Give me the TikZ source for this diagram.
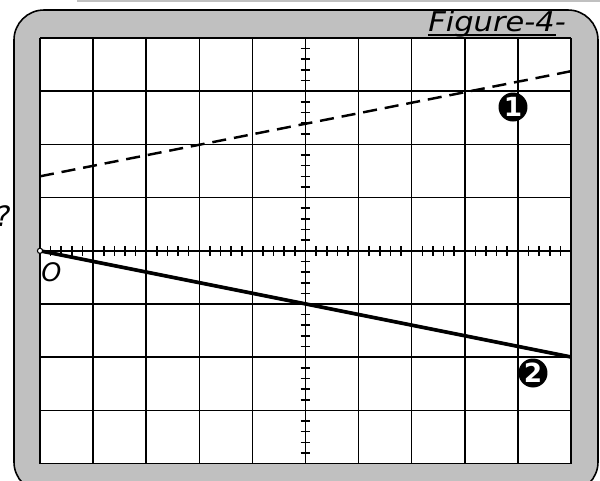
\documentclass[tikz,border=0pt]{standalone}
\usepackage{fontspec}
\newfontfamily\dejavu{DejaVu Sans}
\newfontfamily\figfont{DejaVu Sans}[FakeStretch=1.12]
\definecolor{framegray}{HTML}{C0C0C0}
\begin{document}
\begin{tikzpicture}[x=0.02cm,y=-0.02cm,
  framebox/.style={fill=framegray,draw=black,line width=0.9pt,rounded corners=0.6cm},
  gridline/.style={black,line width=0.85pt},
  tickline/.style={black,line width=0.9pt},
  dashline/.style={black,line width=1.4pt,dash pattern=on 8pt off 4.5pt},
  solidline/.style={black,line width=2.1pt},
  marker/.style={circle,fill=black,text=white,inner sep=0pt,minimum size=0.58cm,
    font=\dejavu\bfseries\fontsize{15}{15}\selectfont},
  lbl/.style={inner sep=0pt,font=\dejavu\itshape\fontsize{14.5}{16}\selectfont}]
\useasboundingbox (0,0) rectangle (600,481);
\clip (0,0) rectangle (600,481);
% top gray rule
\draw[framegray,line width=1.2pt] (77,0.6) -- (600,0.6);
% outer frame
\draw[framebox] (14,10) rectangle (598,492);
% inner screen
\fill[white] (40,38) rectangle (571,463.6);
% grid
\foreach \i in {0,...,10}{\draw[gridline] ({40+\i*53.1},38) -- ({40+\i*53.1},463.6);}
\foreach \j in {0,...,8}{\draw[gridline] (40,{38+\j*53.2}) -- (571,{38+\j*53.2});}
% axis ticks
\foreach \i in {1,...,49}{\draw[tickline] ({40+\i*10.62},246) -- ({40+\i*10.62},255.6);}
\foreach \j in {1,...,39}{\draw[tickline] (300.7,{38+\j*10.64}) -- (310.3,{38+\j*10.64});}
% lines
\coordinate (d1) at (40,176.3);
\coordinate (d2) at (573,70.8);
\coordinate (o) at (40,250.8);
\coordinate (s2) at (571,357);
\draw[dashline] (d1) -- (d2);
\draw[solidline] (o) -- (s2);
\draw[black,line width=0.6pt,fill=white] (o) circle[radius=2.6];
% labels
\node[lbl,anchor=center] (olbl) at (51.5,272) {O};
\node[lbl,anchor=east,font=\dejavu\itshape\fontsize{16}{18}\selectfont] (q) at (11,216) {?};
\node[marker] (m1) at (513,107) {1};
\node[marker] (m2) at (533,373) {2};
\node[inner sep=0pt,anchor=base west,font=\figfont\itshape\fontsize{15.5}{18}\selectfont] (fig) at (428,31) {Figure-4-};
\draw[black,line width=1.4pt] (428,34.8) -- (556,34.8);
\end{tikzpicture}
\end{document}
